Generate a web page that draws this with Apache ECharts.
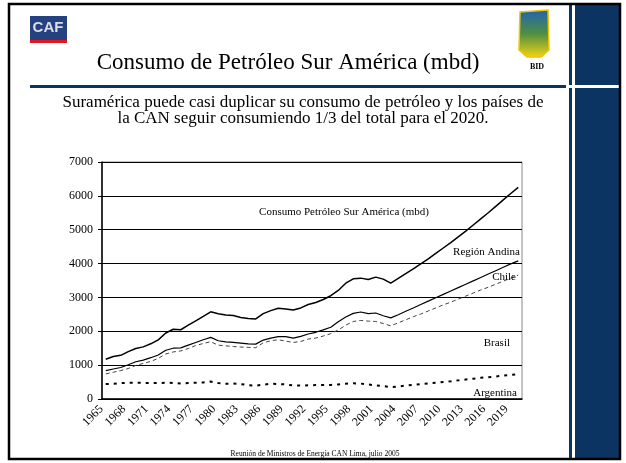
<!DOCTYPE html>
<html>
<head>
<meta charset="utf-8">
<script src="https://cdn.jsdelivr.net/npm/echarts@6/dist/echarts.min.js"></script>
<style>
  html, body { margin: 0; padding: 0; background: #fff; }
  #main { width: 626px; height: 463px; }
</style>
</head>
<body>
<div id="main"></div>
<script>
// años (eje x)
var years = [
  "1965", "1966", "1967", "1968", "1969", "1970", "1971", "1972", "1973", "1974",
  "1975", "1976", "1977", "1978", "1979", "1980", "1981", "1982", "1983", "1984",
  "1985", "1986", "1987", "1988", "1989", "1990", "1991", "1992", "1993", "1994",
  "1995", "1996", "1997", "1998", "1999", "2000", "2001", "2002", "2003", "2004",
  "2005", "2006", "2007", "2008", "2009", "2010", "2011", "2012", "2013", "2014",
  "2015", "2016", "2017", "2018", "2019", "2020"
];

// consumo por país / región (mbd), apilado
var argentina = [
  440, 450, 470, 480, 480, 475, 470, 470, 480, 475,
  460, 470, 480, 490, 515, 470, 450, 455, 440, 410,
  395, 420, 450, 445, 430, 400, 395, 405, 410, 410,
  415, 430, 450, 465, 455, 430, 400, 380, 350, 370,
  395, 415, 440, 460, 480, 505, 525, 550, 575, 600,
  625, 645, 665, 690, 710, 730
];
var brasil = [
  300, 340, 370, 420, 510, 575, 640, 730, 850, 915,
  960, 1020, 1100, 1150, 1175, 1120, 1120, 1095, 1095, 1115,
  1120, 1240, 1270, 1305, 1280, 1270, 1305, 1365, 1390, 1450,
  1515, 1610, 1730, 1825, 1865, 1870, 1890, 1850, 1810, 1880,
  1945, 2015, 2070, 2140, 2210, 2275, 2335, 2400, 2465, 2530,
  2595, 2655, 2725, 2790, 2860, 2930
];
var chile = [
  100, 95, 90, 110, 110, 100, 110, 100, 110, 110,
  90, 100, 90, 110, 130, 130, 115, 120, 115, 105,
  105, 80, 80, 90, 130, 130, 150, 150, 170, 180,
  190, 240, 240, 240, 250, 220, 250, 230, 235, 240,
  250, 260, 280, 290, 300, 310, 330, 340, 350, 360,
  370, 390, 400, 410, 420, 420
];
var regionAndina = [
  335, 370, 360, 390, 390, 390, 410, 445, 510, 560,
  535, 590, 640, 690, 755, 800, 795, 795, 760, 750,
  745, 780, 810, 840, 820, 830, 840, 870, 880, 900,
  930, 925, 1000, 1020, 1000, 1010, 1060, 1080, 1025, 1070,
  1110, 1150, 1200, 1250, 1310, 1370, 1430, 1500, 1570, 1650,
  1730, 1810, 1900, 1990, 2080, 2170
];

var navy = "#0b3462";
var serif = '"Liberation Serif", "Times New Roman", serif';

var chartDom = document.getElementById("main");
var myChart = echarts.init(chartDom, null, { renderer: "canvas" });

var option = {
  animation: false,
  backgroundColor: "#fff",
  grid: {
    left: 102,
    right: 104,
    top: 162,
    bottom: 64,
    show: true,
    borderColor: "#888",
    borderWidth: 1
  },
  xAxis: {
    type: "category",
    data: years,
    boundaryGap: true,
    axisLine: { lineStyle: { color: "#000", width: 1.5 } },
    axisTick: { interval: 0, length: 4, lineStyle: { color: "#000" } },
    axisLabel: {
      interval: 2,
      rotate: 45,
      color: "#000",
      fontFamily: serif,
      fontSize: 12,
      margin: 4,
      padding: [0, 6, 0, 0]
    },
    splitLine: { show: false }
  },
  yAxis: {
    type: "value",
    min: 0,
    max: 7000,
    interval: 1000,
    axisLine: { show: true, lineStyle: { color: "#000", width: 1.5 } },
    axisTick: { show: true, length: 4, lineStyle: { color: "#000" } },
    axisLabel: {
      color: "#000",
      fontFamily: serif,
      fontSize: 12,
      margin: 9,
      formatter: function (v) { return String(v); }
    },
    splitLine: { lineStyle: { color: "#000", width: 1 } }
  },
  series: [
    {
      name: "Argentina",
      type: "line",
      stack: "total",
      data: argentina,
      symbol: "none",
      lineStyle: { color: "#000", width: 2, type: [3, 5] }
    },
    {
      name: "Brasil",
      type: "line",
      stack: "total",
      data: brasil,
      symbol: "none",
      lineStyle: { color: "#444", width: 1, type: [4, 3] }
    },
    {
      name: "Chile",
      type: "line",
      stack: "total",
      data: chile,
      symbol: "none",
      lineStyle: { color: "#000", width: 1.2 }
    },
    {
      name: "Región Andina",
      type: "line",
      stack: "total",
      data: regionAndina,
      symbol: "none",
      lineStyle: { color: "#000", width: 1.5 }
    }
  ],
  graphic: [
    // marco de la diapositiva
    { type: "rect", z: 100, shape: { x: 575, y: 4, width: 46, height: 455 }, style: { fill: navy } },
    { type: "rect", z: 100, shape: { x: 569, y: 4, width: 3, height: 455 }, style: { fill: navy } },
    { type: "rect", z: 100, shape: { x: 30, y: 85, width: 536, height: 3 }, style: { fill: navy } },
    { type: "rect", z: 101, shape: { x: 566, y: 85, width: 56, height: 3 }, style: { fill: "#fff" } },
    { type: "rect", z: 102, shape: { x: 9, y: 4, width: 611, height: 455 }, style: { fill: null, stroke: "#000", lineWidth: 2.5 } },

    // logo CAF
    { type: "rect", z: 100, shape: { x: 30, y: 16, width: 37, height: 24 }, style: { fill: "#24427f" } },
    { type: "rect", z: 100, shape: { x: 30, y: 40, width: 37, height: 3 }, style: { fill: "#e3161f" } },
    {
      type: "text", z: 101, x: 48, y: 28,
      style: { text: "CAF", fill: "#dcdde6", font: 'bold 15px "Liberation Sans", Arial, sans-serif', textAlign: "center", textVerticalAlign: "middle" }
    },

    // logo BID
    {
      type: "polygon", z: 100,
      shape: { points: [[520, 12], [548, 10], [549, 50], [541, 57], [527, 57], [519, 50]] },
      style: {
        fill: new echarts.graphic.LinearGradient(0, 0, 0, 1, [
          { offset: 0, color: "#1e63b5" },
          { offset: 0.5, color: "#4f8e43" },
          { offset: 1, color: "#f3d511" }
        ]),
        stroke: "#f2c400",
        lineWidth: 1.5
      }
    },
    {
      type: "text", z: 101, x: 537, y: 67,
      style: { text: "BID", fill: "#000", font: "bold 8px " + serif, textAlign: "center", textVerticalAlign: "middle" }
    },

    // títulos
    {
      type: "text", z: 101, x: 288, y: 63,
      style: { text: "Consumo de Petróleo Sur América (mbd)", fill: "#000", font: "23px " + serif, textAlign: "center", textVerticalAlign: "middle" }
    },
    {
      type: "text", z: 101, x: 303, y: 103,
      style: { text: "Suramérica puede casi duplicar su consumo de petróleo y los países de", fill: "#000", font: "17px " + serif, textAlign: "center", textVerticalAlign: "middle" }
    },
    {
      type: "text", z: 101, x: 303, y: 119,
      style: { text: "la CAN seguir consumiendo 1/3 del total para el 2020.", fill: "#000", font: "17px " + serif, textAlign: "center", textVerticalAlign: "middle" }
    },

    // rótulos dentro del gráfico
    {
      type: "text", z: 101, x: 344, y: 212,
      style: { text: "Consumo Petróleo Sur América (mbd)", fill: "#000", font: "11px " + serif, textAlign: "center", textVerticalAlign: "middle" }
    },
    {
      type: "text", z: 101, x: 520, y: 252,
      style: { text: "Región Andina", fill: "#000", font: "11px " + serif, textAlign: "right", textVerticalAlign: "middle" }
    },
    {
      type: "text", z: 101, x: 516, y: 277,
      style: { text: "Chile", fill: "#000", font: "11px " + serif, textAlign: "right", textVerticalAlign: "middle" }
    },
    {
      type: "text", z: 101, x: 510, y: 343,
      style: { text: "Brasil", fill: "#000", font: "11px " + serif, textAlign: "right", textVerticalAlign: "middle" }
    },
    {
      type: "text", z: 101, x: 517, y: 393,
      style: { text: "Argentina", fill: "#000", font: "11px " + serif, textAlign: "right", textVerticalAlign: "middle" }
    },

    // pie de página
    {
      type: "text", z: 101, x: 315, y: 454,
      style: { text: "Reunión de Ministros de Energía CAN Lima, julio 2005", fill: "#000", font: "7.5px " + serif, textAlign: "center", textVerticalAlign: "middle" }
    }
  ]
};

option && myChart.setOption(option);
</script>
</body>
</html>
